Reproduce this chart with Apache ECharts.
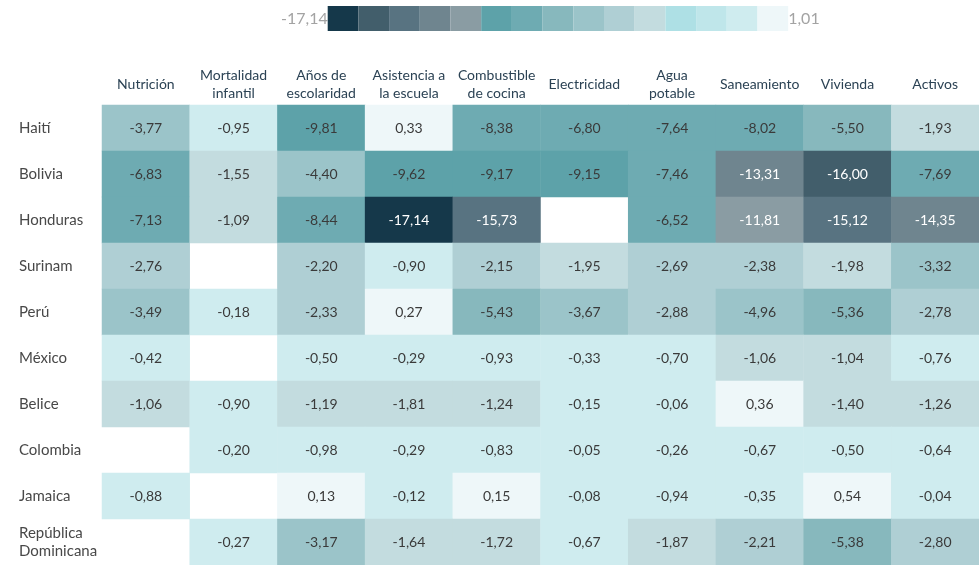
<!DOCTYPE html>
<html>
<head>
<meta charset="utf-8">
<script src="https://cdn.jsdelivr.net/npm/echarts@6/dist/echarts.min.js"></script>
<style>
  html, body { margin: 0; padding: 0; background: #fff; }
  #chart { width: 979px; height: 565px; }
</style>
</head>
<body>
<div id="chart"></div>
<script>
const indicators = [
  'Nutrición', 'Mortalidad\ninfantil', 'Años de\nescolaridad', 'Asistencia a\nla escuela',
  'Combustible\nde cocina', 'Electricidad', 'Agua\npotable', 'Saneamiento', 'Vivienda', 'Activos'
]
const countries = [
  'Haití', 'Bolivia', 'Honduras', 'Surinam', 'Perú',
  'México', 'Belice', 'Colombia', 'Jamaica', 'República\nDominicana'
]

// one row per country, one value per indicator (null = no data)
const haiti = [-3.77, -0.95, -9.81, 0.33, -8.38, -6.80, -7.64, -8.02, -5.50, -1.93]
const bolivia = [-6.83, -1.55, -4.40, -9.62, -9.17, -9.15, -7.46, -13.31, -16.00, -7.69]
const honduras = [-7.13, -1.09, -8.44, -17.14, -15.73, null, -6.52, -11.81, -15.12, -14.35]
const surinam = [-2.76, null, -2.20, -0.90, -2.15, -1.95, -2.69, -2.38, -1.98, -3.32]
const peru = [-3.49, -0.18, -2.33, 0.27, -5.43, -3.67, -2.88, -4.96, -5.36, -2.78]
const mexico = [-0.42, null, -0.50, -0.29, -0.93, -0.33, -0.70, -1.06, -1.04, -0.76]
const belice = [-1.06, -0.90, -1.19, -1.81, -1.24, -0.15, -0.06, 0.36, -1.40, -1.26]
const colombia = [null, -0.20, -0.98, -0.29, -0.83, -0.05, -0.26, -0.67, -0.50, -0.64]
const jamaica = [-0.88, null, 0.13, -0.12, 0.15, -0.08, -0.94, -0.35, 0.54, -0.04]
const repDominicana = [null, -0.27, -3.17, -1.64, -1.72, -0.67, -1.87, -2.21, -5.38, -2.80]

const rows = [haiti, bolivia, honduras, surinam, peru, mexico, belice, colombia, jamaica, repDominicana]

const scaleMin = -17.14
const scaleMax = 1.01
const scaleBreaks = [scaleMin, -16.5, -15.9, -15, -13, -10.5, -9, -6.5, -5, -3, -2, -1.02, -1.01, -1, 0, scaleMax]
const scaleColors = [
  '#15384a', '#425e6b', '#587381', '#6f858f', '#8a9ca3',
  '#5da2a9', '#6eabb2', '#87b8bd', '#9bc4c9', '#afcfd4',
  '#c3dcdf', '#aee0e5', '#bfe6ea', '#cfecef', '#eef7f9'
]

const fmt = (v) => v.toFixed(2).replace('.', ',')

const cells = []
rows.forEach((row, r) => {
  row.forEach((v, c) => {
    if (v !== null) cells.push([c, r, v])
  })
})

const pieces = scaleColors.map((color, i) => {
  const piece = { gte: scaleBreaks[i], color: color }
  if (i === scaleColors.length - 1) piece.lte = scaleBreaks[i + 1]
  else piece.lt = scaleBreaks[i + 1]
  return piece
})

const chart = echarts.init(document.getElementById('chart'))
chart.setOption({
  animation: false,
  textStyle: { fontFamily: 'Lato' },
  grid: {
    left: 102,
    top: 105,
    width: 900,
    height: 460
  },
  xAxis: {
    type: 'category',
    position: 'top',
    data: indicators,
    axisLine: { show: false },
    axisTick: { show: false },
    splitLine: { show: false },
    axisLabel: {
      interval: 0,
      margin: 21,
      verticalAlign: 'middle',
      color: '#2b4254',
      fontSize: 14,
      lineHeight: 18,
      fontFamily: 'Lato'
    }
  },
  yAxis: {
    type: 'category',
    inverse: true,
    data: countries,
    axisLine: { show: false },
    axisTick: { show: false },
    splitLine: { show: false },
    axisLabel: {
      interval: 0,
      align: 'left',
      margin: 83,
      color: '#484848',
      fontSize: 15,
      lineHeight: 18,
      fontFamily: 'Lato'
    }
  },
  visualMap: {
    type: 'piecewise',
    dimension: 2,
    orient: 'horizontal',
    left: 276,
    top: 1,
    padding: 5,
    itemWidth: 30.7,
    itemHeight: 25,
    itemGap: 0,
    itemSymbol: 'rect',
    textGap: 8,
    showLabel: false,
    hoverLink: false,
    selectedMode: false,
    text: [fmt(scaleMax), fmt(scaleMin)],
    textStyle: {
      color: '#a3a3a3',
      fontSize: 16,
      fontFamily: 'Lato'
    },
    pieces: pieces
  },
  series: [
    {
      type: 'heatmap',
      data: cells,
      itemStyle: { borderWidth: 0 },
      emphasis: { disabled: true },
      label: {
        show: true,
        fontSize: 14,
        fontFamily: 'Lato',
        formatter: (p) => {
          const v = p.value[2]
          return v < -10.5 ? `{w|${fmt(v)}}` : `{d|${fmt(v)}}`
        },
        rich: {
          d: { color: '#3a3a3a', fontSize: 14, fontFamily: 'Lato' },
          w: { color: '#ffffff', fontSize: 14, fontFamily: 'Lato' }
        }
      }
    }
  ]
})
</script>
</body>
</html>
